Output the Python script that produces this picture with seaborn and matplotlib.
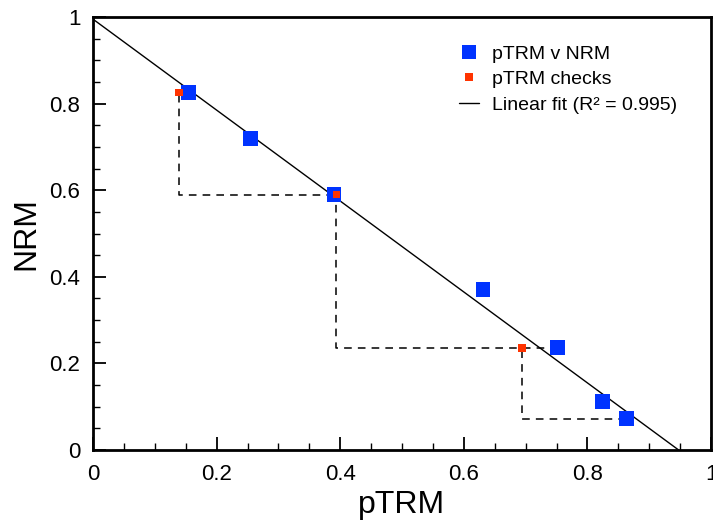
import numpy as np
import pandas as pd
import matplotlib
matplotlib.use("Agg")
import matplotlib.pyplot as plt
import seaborn as sns
from matplotlib.lines import Line2D
from matplotlib.ticker import MultipleLocator, FuncFormatter

# ---- data ----
ptrm = [0.155, 0.255, 0.390, 0.631, 0.752, 0.824, 0.863]
nrm = [0.826, 0.720, 0.590, 0.370, 0.236, 0.111, 0.072]
check_ptrm = [0.139, 0.394, 0.694]
check_nrm = [0.826, 0.590, 0.236]
check_from = [2, 4, 6]          # index of the pTRM v NRM point each check refers back to
fit_intercept = 0.995
fit_slope = -1.05
r_squared = 0.995

sns.set_style("ticks")
plt.rcParams['font.family'] = ['Liberation Sans', 'DejaVu Sans']
plt.rcParams['text.color'] = 'black'
plt.rcParams['axes.labelcolor'] = 'black'
plt.rcParams['xtick.color'] = 'black'
plt.rcParams['ytick.color'] = 'black'
plt.rcParams['axes.edgecolor'] = 'black'

fig = plt.figure(figsize=(7.13, 5.26), dpi=100)
ax = fig.add_axes([93/713, 1-450/526, 618/713, 433/526])

blue = "#0033FF"
red = "#FF3300"

# check dashed paths
for cx, cy, j in zip(check_ptrm, check_nrm, check_from):
    xs = [ptrm[j], cx, cx]
    ys = [nrm[j], nrm[j], cy]
    ax.plot(xs, ys, color="black", linestyle=(0, (5, 4)), linewidth=1.1, zorder=2)

# linear fit
x_end = -fit_intercept / fit_slope
fit_df = pd.DataFrame({"x": [0.0, x_end], "y": [fit_intercept, fit_intercept + fit_slope * x_end]})
sns.lineplot(data=fit_df, x="x", y="y", ax=ax, color="black", linewidth=1.0, zorder=3)

pts = pd.DataFrame({"pTRM": ptrm, "NRM": nrm})
sns.scatterplot(data=pts, x="pTRM", y="NRM", ax=ax, marker="s", s=115, color=blue,
                edgecolor="none", zorder=4)
chk = pd.DataFrame({"pTRM": check_ptrm, "NRM": check_nrm})
sns.scatterplot(data=chk, x="pTRM", y="NRM", ax=ax, marker="s", s=30, color=red,
                edgecolor="none", zorder=5)

ax.set_xlim(0, 1)
ax.set_ylim(0, 1)
ax.xaxis.set_major_locator(MultipleLocator(0.2))
ax.yaxis.set_major_locator(MultipleLocator(0.2))
ax.xaxis.set_minor_locator(MultipleLocator(0.05))
ax.yaxis.set_minor_locator(MultipleLocator(0.05))
fmt = FuncFormatter(lambda v, p: f"{v:g}")
ax.xaxis.set_major_formatter(fmt)
ax.yaxis.set_major_formatter(fmt)
ax.tick_params(which="major", direction="in", length=9.5, width=1.3, labelsize=16,
               top=False, right=False)
ax.tick_params(which="minor", direction="in", length=5, width=1.0, top=False, right=False)
ax.tick_params(axis="x", which="major", pad=10)
ax.tick_params(axis="y", which="major", pad=9)
for s in ax.spines.values():
    s.set_visible(True)
    s.set_linewidth(2.0)
ax.set_xlabel("pTRM", fontsize=23, labelpad=4)
ax.set_ylabel("NRM", fontsize=23, labelpad=6)

handles = [
    Line2D([], [], marker="s", linestyle="none", color=blue, markersize=10.5, markeredgewidth=0),
    Line2D([], [], marker="s", linestyle="none", color=red, markersize=5.2, markeredgewidth=0),
    Line2D([], [], color="black", linewidth=1.0),
]
labels = ["pTRM v NRM", "pTRM checks", f"Linear fit (R\u00b2 = {r_squared:.3f})"]
ax.legend(handles, labels, loc="upper left", bbox_to_anchor=(0.592, 0.935), frameon=False,
          fontsize=14, handlelength=1.05, handletextpad=0.65, labelspacing=0.4,
          borderaxespad=0, borderpad=0)

fig.savefig("out.png", dpi=100)
